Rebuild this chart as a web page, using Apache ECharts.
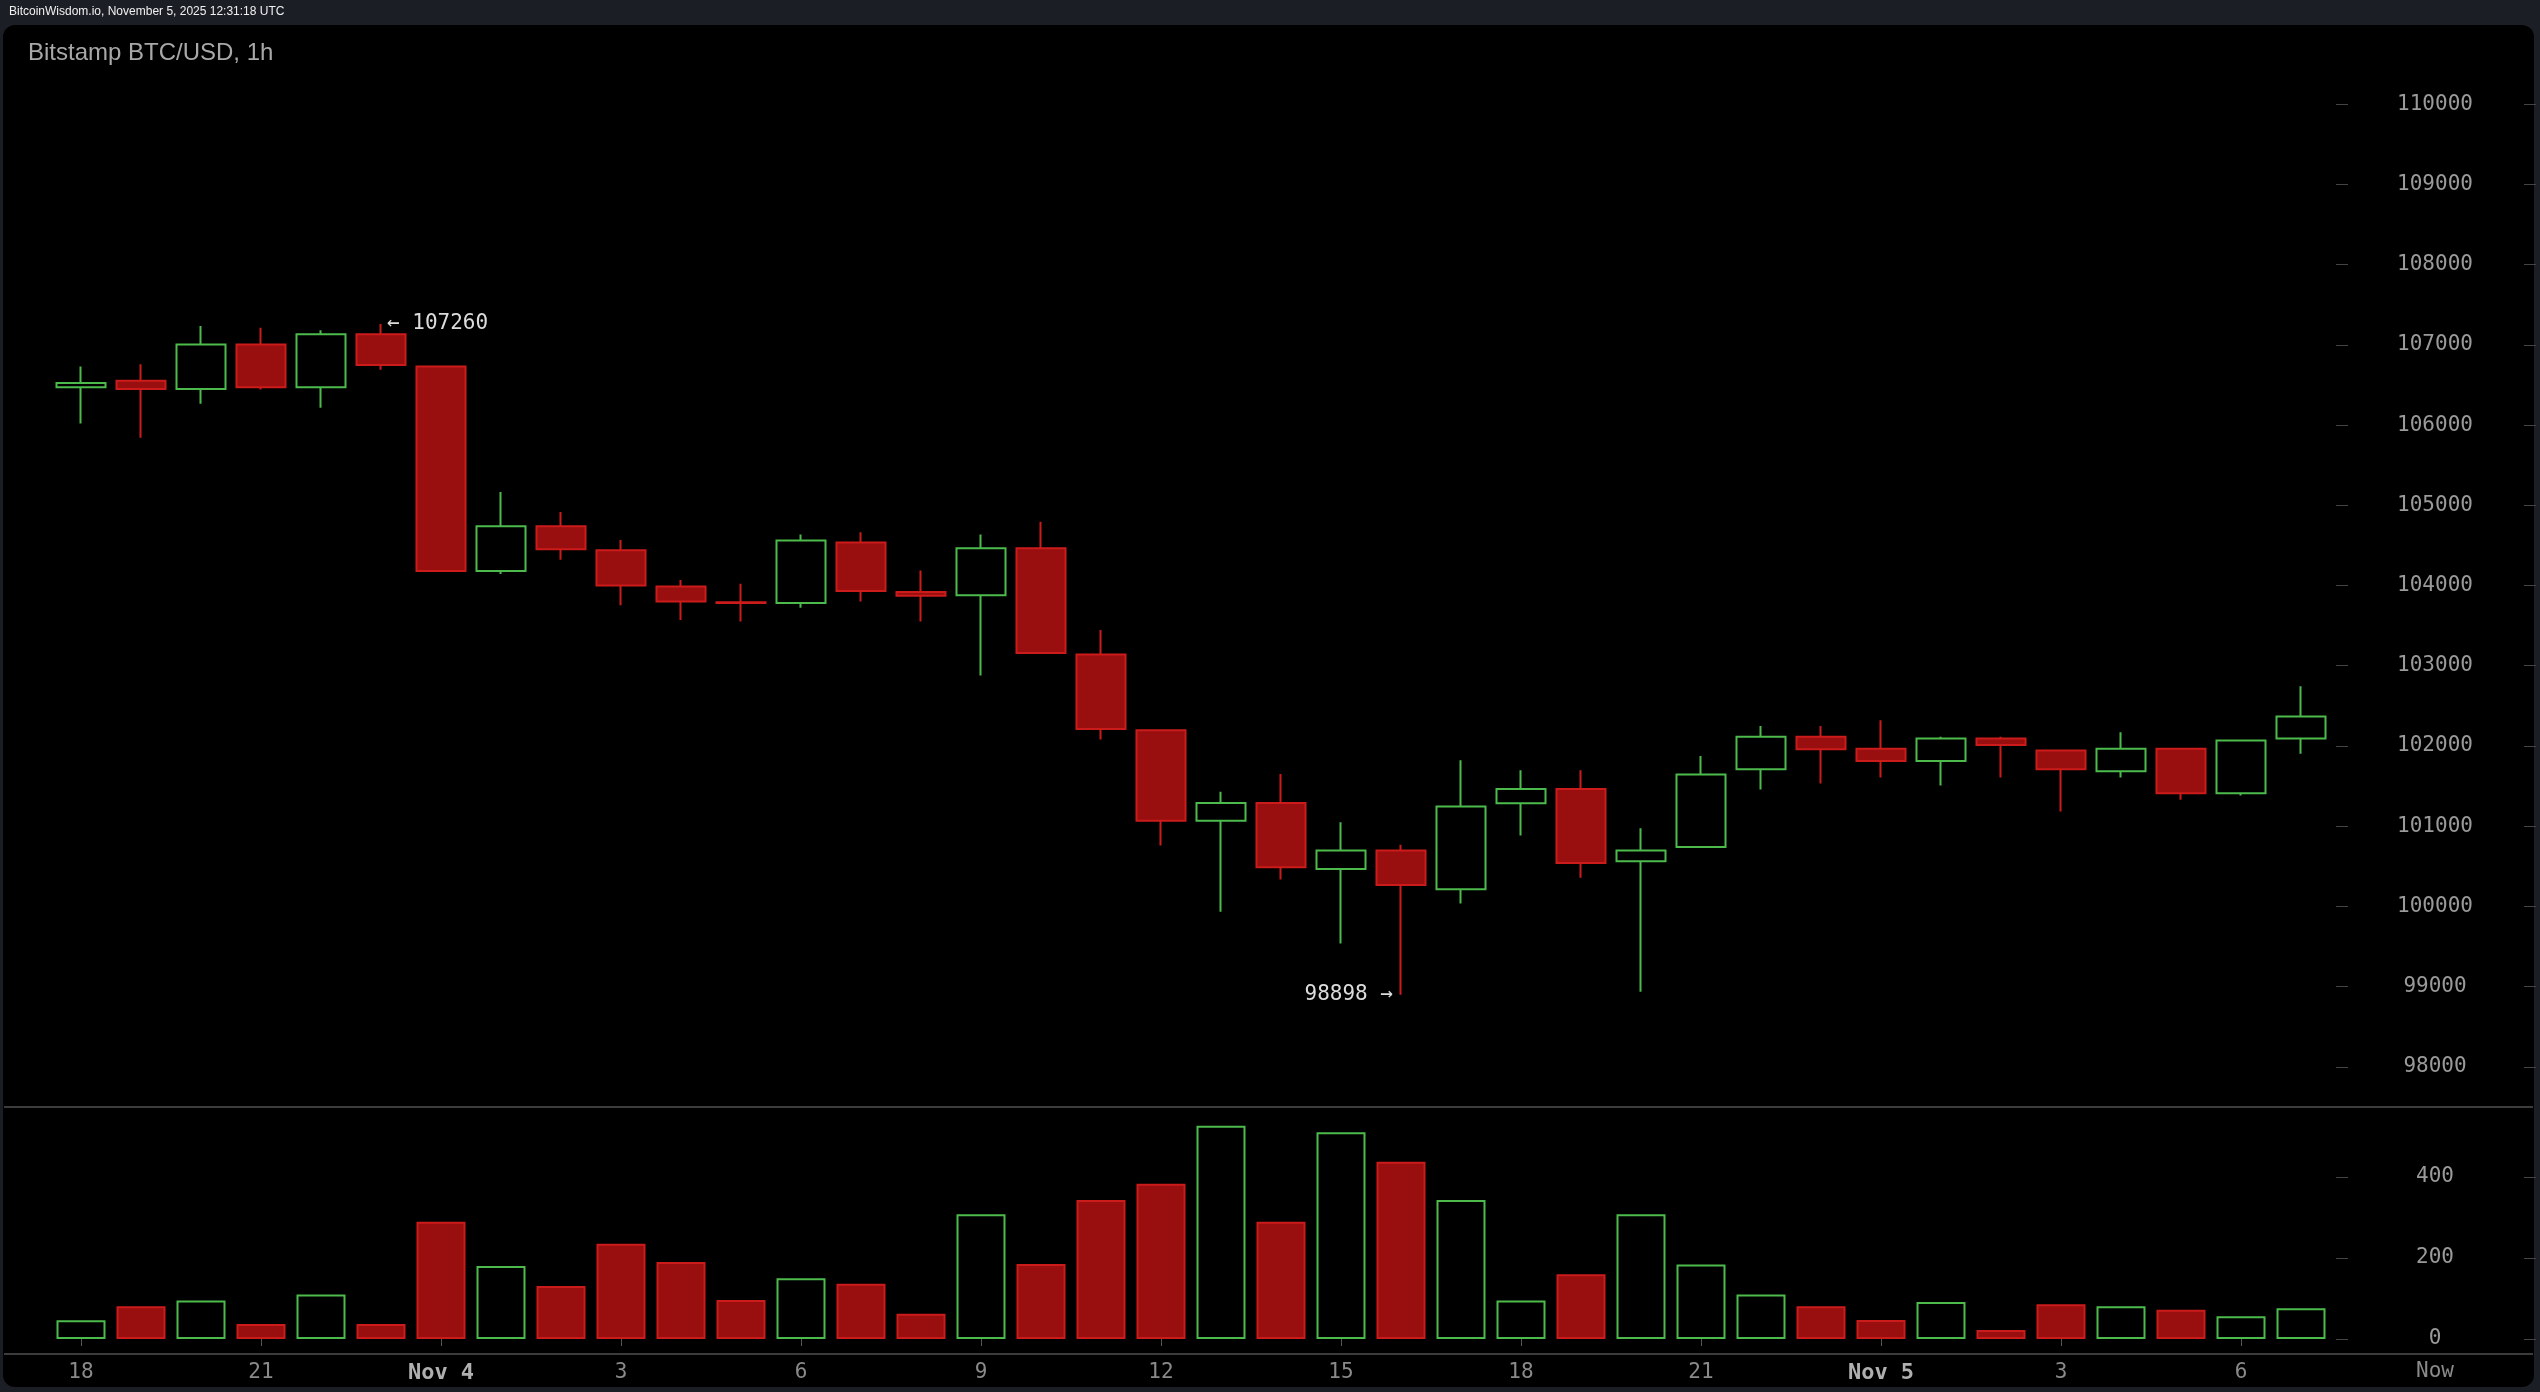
<!DOCTYPE html>
<html>
<head>
<meta charset="utf-8">
<title>Bitstamp BTC/USD, 1h</title>
<script src="https://cdn.jsdelivr.net/npm/echarts@6/dist/echarts.min.js"></script>
<style>
  html, body { margin: 0; padding: 0; background: #1b1e25; }
  #chart { width: 2540px; height: 1392px; }
</style>
</head>
<body>
<div id="chart"></div>
<script>
  // hourly candles, Nov 3 18:00 -> Nov 5 07:00 UTC
  const hours = [
    '11-03 18', '11-03 19', '11-03 20', '11-03 21', '11-03 22', '11-03 23',
    '11-04 00', '11-04 01', '11-04 02', '11-04 03', '11-04 04', '11-04 05',
    '11-04 06', '11-04 07', '11-04 08', '11-04 09', '11-04 10', '11-04 11',
    '11-04 12', '11-04 13', '11-04 14', '11-04 15', '11-04 16', '11-04 17',
    '11-04 18', '11-04 19', '11-04 20', '11-04 21', '11-04 22', '11-04 23',
    '11-05 00', '11-05 01', '11-05 02', '11-05 03', '11-05 04', '11-05 05',
    '11-05 06', '11-05 07'
  ]
  const opens = [
    106473, 106553, 106450, 107006, 106473, 107132,
    106731, 104182, 104738, 104440, 103988, 103790,
    103781, 104537, 103919, 103879, 104463, 103140,
    102195, 101067, 101290, 100466, 100695, 100214,
    101285, 101462, 100563, 100740, 101708, 102115,
    101966, 101811, 102092, 101943, 101685, 101966,
    101410, 102092
  ]
  const closes = [
    106525, 106450, 107006, 106473, 107132, 106748,
    104182, 104738, 104452, 103999, 103799, 103782,
    104560, 103930, 103873, 104463, 103157, 102212,
    101067, 101290, 100488, 100695, 100265, 101244,
    101462, 100540, 100695, 101645, 102115, 101960,
    101811, 102092, 102012, 101708, 101966, 101410,
    102069, 102367
  ]
  const lows = [
    106021, 105843, 106267, 106444, 106215, 106691,
    104175, 104142, 104320, 103753, 103570, 103552,
    103724, 103799, 103552, 102877, 103150, 102081,
    100758, 99933, 100334, 99538, 98898, 100036,
    100884, 100357, 98936, 100740, 101456, 101531,
    101605, 101508, 101605, 101181, 101605, 101330,
    101382, 101903
  ]
  const highs = [
    106731, 106759, 107235, 107212, 107183, 107260,
    106740, 105167, 104915, 104566, 104068, 104022,
    104635, 104663, 104188, 104635, 104795, 103444,
    102195, 101428, 101651, 101050, 100769, 101823,
    101697, 101697, 100975, 101874, 102247, 102247,
    102321, 102115, 102115, 101943, 102172, 101966,
    102069, 102745
  ]
  const volumes = [
    46, 81, 95, 37, 110, 37,
    289, 180, 131, 235, 190, 96,
    150, 136, 62, 308, 185, 343,
    383, 526, 289, 510, 437, 343,
    95, 160, 308, 184, 110, 81,
    47, 91, 22, 86, 81, 72,
    56, 76
  ]

  const tickLabels = {
    '11-03 18': '18', '11-03 21': '21', '11-04 00': 'Nov 4', '11-04 03': '3',
    '11-04 06': '6', '11-04 09': '9', '11-04 12': '12', '11-04 15': '15',
    '11-04 18': '18', '11-04 21': '21', '11-05 00': 'Nov 5', '11-05 03': '3',
    '11-05 06': '6'
  }
  const priceTicks = [98000, 99000, 100000, 101000, 102000, 103000, 104000,
    105000, 106000, 107000, 108000, 109000, 110000]
  const volumeTicks = [0, 200, 400]

  const highMark = { at: '11-03 23', value: 107260 }
  const lowMark = { at: '11-04 16', value: 98898 }

  const GREEN = '#4cbb4c'
  const RED_FILL = '#990f0f'
  const RED_LINE = '#cc1b1b'
  const MONO = 'DejaVu Sans Mono'

  const candles = hours.map((h, i) => [opens[i], closes[i], lows[i], highs[i]])
  const volBars = volumes.map((v, i) => {
    const up = closes[i] > opens[i]
    return {
      value: v,
      itemStyle: up
        ? { color: '#000', borderColor: GREEN }
        : { color: RED_FILL, borderColor: RED_LINE }
    }
  })

  const showTick = (i, v) => tickLabels[v] !== undefined
  const plain = v => String(v)

  const chart = echarts.init(document.getElementById('chart'))
  chart.setOption({
    animation: false,
    backgroundColor: '#1b1e25',
    title: [{
      text: 'BitcoinWisdom.io, November 5, 2025 12:31:18 UTC',
      left: 9,
      top: 6,
      padding: 0,
      textStyle: { color: '#f0f0f0', fontSize: 12, fontWeight: 'normal', fontFamily: 'Liberation Sans' }
    }, {
      text: 'Bitstamp BTC/USD, 1h',
      left: 28,
      top: 41,
      padding: 0,
      textStyle: { color: '#a8a8a8', fontSize: 24, fontWeight: 'normal', fontFamily: 'Liberation Sans' }
    }],
    graphic: [
      {
        type: 'rect', z: -10,
        shape: { x: 3, y: 25, width: 2531, height: 1362, r: 12 },
        style: { fill: '#000' }
      },
      {
        type: 'line',
        shape: { x1: 4, y1: 1107, x2: 2533, y2: 1107 },
        style: { stroke: '#3c3c3c', lineWidth: 2 }
      },
      {
        type: 'line',
        shape: { x1: 4, y1: 1354, x2: 2533, y2: 1354 },
        style: { stroke: '#3c3c3c', lineWidth: 2 }
      },
      {
        type: 'text', x: 2435, y: 1372,
        style: { text: 'Now', fill: '#8a8a8a', fontSize: 21, fontFamily: MONO, align: 'center', verticalAlign: 'middle' }
      }
    ],
    grid: [
      { left: 51, width: 2280, top: 24, height: 1123 },
      { left: 51, width: 2280, top: 1112, height: 227 }
    ],
    xAxis: [
      { type: 'category', gridIndex: 0, data: hours, show: false },
      {
        type: 'category', gridIndex: 1, data: hours, offset: 15,
        axisLine: { show: false },
        axisTick: { show: true, interval: showTick, alignWithLabel: true, length: 7, lineStyle: { color: '#555' } },
        axisLabel: {
          interval: showTick,
          margin: 8,
          color: '#8a8a8a',
          fontFamily: MONO,
          fontSize: 21,
          formatter: v => {
            const t = tickLabels[v]
            return t.startsWith('Nov') ? '{d|' + t + '}' : t
          },
          rich: { d: { color: '#b0b0b0', fontSize: 22, fontFamily: MONO, fontWeight: 'bold' } }
        }
      }
    ],
    yAxis: [
      {
        type: 'value', gridIndex: 0, position: 'right', min: 97000, max: 111000, offset: 5,
        axisLine: { show: false }, splitLine: { show: false },
        axisTick: { show: true, length: 12, customValues: priceTicks, lineStyle: { color: '#444' } },
        axisLabel: { customValues: priceTicks, formatter: plain, margin: 99, align: 'center', color: '#9a9a9a', fontFamily: MONO, fontSize: 21 }
      },
      {
        type: 'value', gridIndex: 0, position: 'right', min: 97000, max: 111000, offset: 193,
        axisLine: { show: false }, splitLine: { show: false }, axisLabel: { show: false },
        axisTick: { show: true, length: 12, customValues: priceTicks, lineStyle: { color: '#444' } }
      },
      {
        type: 'value', gridIndex: 1, position: 'right', min: 0, max: 560, offset: 5,
        axisLine: { show: false }, splitLine: { show: false },
        axisTick: { show: true, length: 12, customValues: volumeTicks, lineStyle: { color: '#444' } },
        axisLabel: { customValues: volumeTicks, formatter: plain, margin: 99, align: 'center', color: '#9a9a9a', fontFamily: MONO, fontSize: 21 }
      },
      {
        type: 'value', gridIndex: 1, position: 'right', min: 0, max: 560, offset: 193,
        axisLine: { show: false }, splitLine: { show: false }, axisLabel: { show: false },
        axisTick: { show: true, length: 12, customValues: volumeTicks, lineStyle: { color: '#444' } }
      }
    ],
    series: [
      {
        type: 'candlestick',
        xAxisIndex: 0,
        yAxisIndex: 0,
        barWidth: 49,
        data: candles,
        itemStyle: {
          color: '#000',
          color0: RED_FILL,
          borderColor: GREEN,
          borderColor0: RED_LINE,
          borderWidth: 2
        },
        markPoint: {
          symbol: 'circle',
          symbolSize: 0,
          label: { show: true, color: '#dcdcdc', fontFamily: MONO, fontSize: 21 },
          data: [
            { coord: [highMark.at, highMark.value], label: { position: 'right', distance: 6, formatter: '← ' + highMark.value } },
            { coord: [lowMark.at, lowMark.value], label: { position: 'left', distance: 8, formatter: lowMark.value + ' →' } }
          ]
        }
      },
      {
        type: 'bar',
        xAxisIndex: 1,
        yAxisIndex: 2,
        barWidth: 49,
        data: volBars,
        itemStyle: { borderWidth: 2 }
      }
    ]
  })
</script>
</body>
</html>
